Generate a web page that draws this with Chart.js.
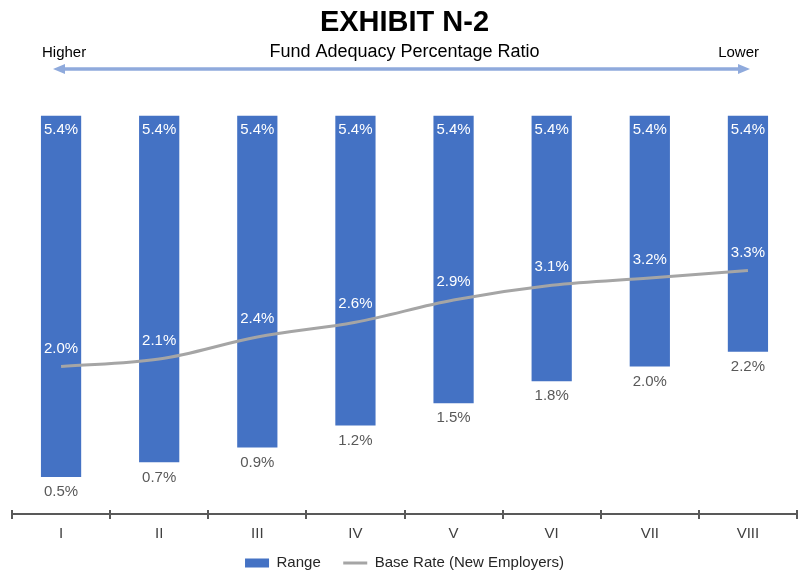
<!DOCTYPE html>
<html>
<head>
<meta charset="utf-8">
<script src="https://cdn.jsdelivr.net/npm/chart.js@4"></script>
<style>
  html, body { margin: 0; padding: 0; background: #ffffff; }
  #wrap { width: 801px; height: 571px; position: relative; }
</style>
</head>
<body>
<div id="wrap"><canvas id="c" width="801" height="571"></canvas></div>
<script>
const categories = ['I', 'II', 'III', 'IV', 'V', 'VI', 'VII', 'VIII'];
const rangeHigh = [5.4, 5.4, 5.4, 5.4, 5.4, 5.4, 5.4, 5.4];
const rangeLow = [0.5, 0.7, 0.9, 1.2, 1.5, 1.8, 2.0, 2.2];
const baseRate = [2.0, 2.1, 2.4, 2.6, 2.9, 3.1, 3.2, 3.3];
const titleText = 'EXHIBIT N-2';
const subtitleText = 'Fund Adequacy Percentage Ratio';
const leftNote = 'Higher';
const rightNote = 'Lower';

const FONT = "'Liberation Sans', Arial, sans-serif";

const rangeData = categories.map((c, i) => [rangeLow[i], rangeHigh[i]]);

const decoPlugin = {
  id: 'deco',
  afterDraw(chart) {
    const ctx = chart.ctx;
    const x = chart.scales.x;
    const area = chart.chartArea;
    ctx.save();
    // Higher / Lower notes
    ctx.font = '15px ' + FONT;
    ctx.fillStyle = '#000000';
    ctx.textBaseline = 'middle';
    ctx.textAlign = 'left';
    ctx.fillText(leftNote, 42, 53);
    ctx.textAlign = 'right';
    ctx.fillText(rightNote, 759, 53);
    // double arrow
    const y = 69, x1 = 53, x2 = 750, hl = 12, hw = 5;
    ctx.strokeStyle = '#8FAADC';
    ctx.fillStyle = '#8FAADC';
    ctx.lineWidth = 3.5;
    ctx.beginPath();
    ctx.moveTo(x1 + hl - 2, y);
    ctx.lineTo(x2 - hl + 2, y);
    ctx.stroke();
    ctx.beginPath();
    ctx.moveTo(x1, y); ctx.lineTo(x1 + hl, y - hw); ctx.lineTo(x1 + hl, y + hw); ctx.closePath(); ctx.fill();
    ctx.beginPath();
    ctx.moveTo(x2, y); ctx.lineTo(x2 - hl, y - hw); ctx.lineTo(x2 - hl, y + hw); ctx.closePath(); ctx.fill();
    // axis tick marks crossing the axis line
    const n = categories.length;
    const w = (x.right - x.left) / n;
    ctx.strokeStyle = '#595959';
    ctx.lineWidth = 2;
    for (let i = 0; i <= n; i++) {
      const px = Math.round(x.left + i * w);
      ctx.beginPath();
      ctx.moveTo(px, area.bottom - 4);
      ctx.lineTo(px, area.bottom + 5);
      ctx.stroke();
    }
    ctx.restore();
  },
  afterDatasetsDraw(chart) {
    const ctx = chart.ctx;
    ctx.save();
    ctx.font = '15px ' + FONT;
    ctx.textAlign = 'center';
    ctx.textBaseline = 'middle';
    const barMeta = chart.getDatasetMeta(0);
    barMeta.data.forEach((el, i) => {
      const top = Math.min(el.y, el.base);
      const bot = Math.max(el.y, el.base);
      ctx.fillStyle = '#ffffff';
      ctx.fillText(rangeHigh[i].toFixed(1) + '%', el.x, top + 14);
      ctx.fillStyle = '#595959';
      ctx.fillText(rangeLow[i].toFixed(1) + '%', el.x, bot + 15);
    });
    const lineMeta = chart.getDatasetMeta(1);
    lineMeta.data.forEach((el, i) => {
      ctx.fillStyle = '#ffffff';
      ctx.fillText(baseRate[i].toFixed(1) + '%', el.x, el.y - 18);
    });
    ctx.restore();
  }
};

new Chart(document.getElementById('c'), {
  data: {
    labels: categories,
    datasets: [
      {
        type: 'bar',
        label: 'Range',
        data: rangeData,
        backgroundColor: '#4472C4',
        borderWidth: 0,
        barPercentage: 0.41,
        categoryPercentage: 1.0,
        order: 2
      },
      {
        type: 'line',
        label: 'Base Rate (New Employers)',
        data: baseRate,
        borderColor: '#A5A5A5',
        backgroundColor: '#A5A5A5',
        borderWidth: 3,
        pointRadius: 0,
        pointHoverRadius: 0,
        tension: 0.35,
        fill: false,
        order: 1
      }
    ]
  },
  options: {
    responsive: false,
    animation: false,
    devicePixelRatio: 1,
    layout: { padding: { left: 12, right: 4, top: 0, bottom: -9.5 } },
    plugins: {
      title: {
        display: true,
        text: titleText,
        color: '#000000',
        font: { family: FONT, size: 29, weight: 'bold' },
        padding: { top: 6, bottom: 0 }
      },
      subtitle: {
        display: true,
        text: subtitleText,
        color: '#000000',
        font: { family: FONT, size: 18 },
        padding: { top: 0, bottom: 9 }
      },
      legend: {
        position: 'bottom',
        align: 'center',
        labels: {
          color: '#262626',
          font: { family: FONT, size: 15 },
          usePointStyle: true,
          pointStyleWidth: 24,
          boxHeight: 9,
          padding: 10,
          sort: (a, b) => a.datasetIndex - b.datasetIndex,
          generateLabels(chart) {
            const items = Chart.defaults.plugins.legend.labels.generateLabels(chart);
            items.forEach((it) => {
              if (it.datasetIndex === 0) {
                it.pointStyle = 'rect'; it.lineWidth = 0; it.fillStyle = '#4472C4';
                it.text = it.text + '   ';
              } else {
                it.pointStyle = 'line'; it.lineWidth = 3; it.strokeStyle = '#A5A5A5';
              }
            });
            return items;
          }
        }
      },
      tooltip: { enabled: false }
    },
    scales: {
      x: {
        offset: true,
        grid: { display: false },
        border: { display: true, color: '#595959', width: 2 },
        ticks: {
          color: '#404040',
          font: { family: FONT, size: 15 },
          padding: 3
        },
        afterFit(scale) { scale.height = 31.5; }
      },
      y: {
        display: false,
        min: 0,
        max: 6
      }
    }
  },
  plugins: [decoPlugin]
});
</script>
</body>
</html>
